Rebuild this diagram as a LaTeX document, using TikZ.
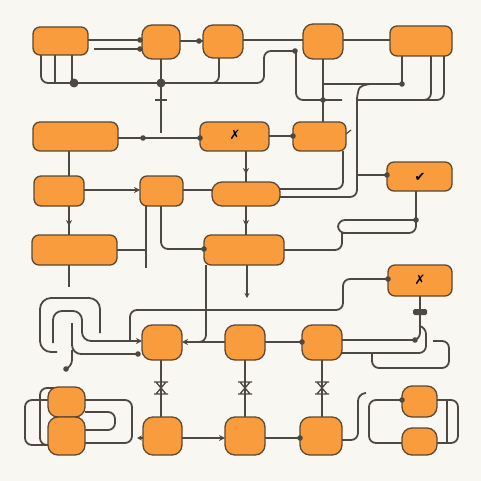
\documentclass[tikz,border=0pt]{standalone}
\usepackage{fontspec}
\newfontfamily\symfont{DejaVu Sans}
\usetikzlibrary{arrows.meta}
\definecolor{bg}{RGB}{249,247,242}
\definecolor{boxfill}{RGB}{248,156,62}
\definecolor{boxedge}{RGB}{92,72,52}
\definecolor{wire}{RGB}{78,72,66}
\begin{document}
\begin{tikzpicture}[x=1pt,y=-1pt,
  box/.style={draw=boxedge, line width=1.3pt, fill=boxfill, rounded corners=7pt, inner sep=0pt, outer sep=0pt},
  sq/.style={box, rounded corners=10pt},
  ln/.style={draw=wire, line width=1.8pt, rounded corners=7pt},
  tip/.style={-{Stealth[length=6pt,width=6pt]}},
  jd/.pic={\fill[wire] (0,0) circle (2.8pt);},
  bigjd/.pic={\fill[wire] (0,0) circle (4.5pt);},
  hg/.pic={\draw[wire,line width=1.3pt] (-7,-6)--(7,-6) (-7,6)--(7,6) (-5,-6)--(5,6) (5,-6)--(-5,6);},
  icon/.style={font=\symfont\fontsize{13}{13}\selectfont, text=black, inner sep=0pt}
]
\fill[bg] (0,0) rectangle (481,481);
\useasboundingbox (0,0) rectangle (481,481);

% ---------- wires (drawn first) ----------
% row 1
\draw[ln] (88,40) -- (142,40);
\coordinate (p1) at (94,49);
\draw[ln] (p1) -- (142,49);
\draw[ln] (41,55) -- (41,83) -- (264,83) -- (264,51) -- (295,51);
\draw[ln] (55,55) -- (55,83);
\draw[ln] (72,55) -- (72,83);
\draw[ln] (219,58) -- (219,83) -- (205,83);
\draw[ln] (161,59) -- (161,133);
\draw[wire,line width=1.4pt] (155,100) -- (167,100);
\draw[ln] (296,51) -- (296,100) -- (342,100);
\draw[ln] (323,59) -- (323,122);
\draw[ln] (323,84) -- (402,84);
\draw[ln] (402,56) -- (402,84);
\draw[ln] (370,84) .. controls (359,86) .. (357,98);
\draw[ln] (357,98) -- (357,197) -- (280,197);
\draw[ln] (357,175) -- (387,175);
\draw[ln] (431,56) -- (431,100) -- (357,100);
\draw[ln] (444,56) -- (444,100) -- (425,100);
\draw[ln] (343,151) -- (343,189) -- (280,189);
\draw[ln] (180,41) -- (203,41);
\draw[ln] (243,40) -- (303,40);
\draw[ln] (343,40) -- (390,40);
% row 2
\draw[ln] (118,138) -- (200,138);
\draw[ln] (269,136) -- (293,136);
\draw[wire,line width=1.2pt] (346,134) -- (351,130);
\draw[ln,tip] (246,151) -- (246,174);
\draw[ln] (246,170) -- (246,182);
\draw[ln] (69,151) -- (69,176);
% row 3
\draw[ln,tip] (84,190) -- (140,190);
\draw[ln] (183,190) -- (212,190);
\draw[ln,tip] (69,206) -- (69,226);
\draw[ln] (69,222) -- (69,235);
\draw[ln,tip] (246,206) -- (246,226);
\draw[ln] (246,222) -- (246,235);
\draw[ln] (146,206) -- (146,268);
\draw[ln] (161,206) -- (161,249) -- (204,249);
% row 4
\draw[ln] (117,250) -- (146,250);
\draw[ln] (69,265) -- (69,287);
\draw[ln,-{Stealth[length=5pt,width=5pt]}] (247,265) -- (247,298);
\draw[ln] (284,250) -- (342,250) -- (342,233);
\draw[ln] (416,191) -- (416,233) -- (342,233);
\draw[ln] (416,220) -- (338,220) -- (338,233) -- (350,233);
\draw[ln] (388,279) -- (343,279) -- (343,310) -- (130,310) -- (130,340);
\draw[ln] (206,265) -- (206,342) -- (190,342);
% row 5 / 6
\draw[ln,{Stealth[length=6pt,width=6pt]}-] (182,342) -- (225,342);
\draw[ln] (265,342) -- (302,342);
\draw[ln] (342,340) -- (420,340) -- (420,296);
\fill[wire, rounded corners=1.5pt] (413,309) rectangle (427,315);
\draw[ln] (342,353) -- (426,353) -- (426,327) -- (420,326);
\draw[ln] (372,353) -- (372,368) -- (449,368) -- (449,341) -- (433,341);
% left serpentine
\draw[ln, rounded corners=11pt] (100,333) -- (100,298) -- (40,298) -- (40,352) -- (57,352);
\draw[ln, rounded corners=9pt, tip] (53,343) -- (53,311) -- (82,311) -- (82,341) -- (142,341);
\draw[ln, rounded corners=9pt] (72,323) -- (72,354) -- (138,354);
\draw[ln] (72,350) -- (72,367) -- (66,369);
% verticals F->G
\draw[ln] (161,360) -- (161,417);
\draw[ln] (245,360) -- (245,417);
\draw[ln] (322,360) -- (322,417);
% row 7
\draw[ln,tip] (182,438) -- (225,438);
\draw[ln] (265,438) -- (300,438);
\draw[ln] (342,440) -- (358,440) -- (358,394) -- (366,393);
\draw[wire,-{Stealth[length=5pt,width=5pt]},line width=1.4pt] (143,438) -- (137,438);
% H loop
\draw[ln] (48,400) -- (25,400) -- (25,445) -- (48,445);
\draw[ln] (54,388) -- (40,388) -- (40,445) -- (48,445);
\draw[ln] (85,400) -- (132,400) -- (132,443) -- (85,443);
\draw[ln] (85,412) -- (115,412) -- (115,430) -- (85,430);
% I loop
\draw[ln] (402,400) -- (369,400) -- (369,443) -- (402,443);
\draw[ln] (437,400) -- (458,400) -- (458,443) -- (437,443);
\draw[ln] (447,400) -- (447,443);

% ---------- nodes ----------
\node[box, minimum width=55pt, minimum height=28pt] (A1) at (60.5,41) {};
\node[sq,  minimum width=38pt, minimum height=34pt] (A2) at (161,42) {};
\node[sq,  minimum width=40pt, minimum height=33pt] (A3) at (223,41.5) {};
\node[sq,  minimum width=40pt, minimum height=35pt] (A4) at (323,41.5) {};
\node[box, minimum width=62pt, minimum height=30pt] (A5) at (421,41) {};
\node[box, minimum width=85pt, minimum height=29pt] (B1) at (75.5,136.5) {};
\node[box, minimum width=69pt, minimum height=29pt] (B2) at (234.5,136.5) {};
\node[box, minimum width=53pt, minimum height=29pt] (B3) at (319.5,136.5) {};
\node[box, minimum width=50pt, minimum height=30pt] (C1) at (59,191) {};
\node[box, minimum width=43pt, minimum height=30pt] (C2) at (161.5,191) {};
\node[box, minimum width=68pt, minimum height=24pt, rounded corners=10pt] (C3) at (246,194) {};
\node[box, minimum width=65pt, minimum height=29pt] (C4) at (419.5,176.5) {};
\node[box, minimum width=85pt, minimum height=30pt] (D1) at (74.5,250) {};
\node[box, minimum width=80pt, minimum height=30pt] (D2) at (244,250) {};
\node[box, minimum width=64pt, minimum height=31pt] (E1) at (420,280.5) {};
\node[sq,  minimum width=40pt, minimum height=35pt] (F1) at (162,342.5) {};
\node[sq,  minimum width=40pt, minimum height=35pt] (F2) at (245,342.5) {};
\node[sq,  minimum width=40pt, minimum height=35pt] (F3) at (322,342.5) {};
\node[sq,  minimum width=39pt, minimum height=38pt] (G1) at (162.5,436) {};
\node[sq,  minimum width=40pt, minimum height=38pt] (G2) at (245,436) {};
\node[sq,  minimum width=42pt, minimum height=38pt] (G3) at (321,436) {};
\node[sq,  minimum width=37pt, minimum height=30pt] (H1) at (66.5,402) {};
\node[sq,  minimum width=37pt, minimum height=38pt] (H2) at (66.5,436) {};
\node[sq,  minimum width=35pt, minimum height=31pt] (I1) at (419.5,401.5) {};
\node[sq,  minimum width=35pt, minimum height=27pt] (I2) at (419.5,441.5) {};

% icons
\node[icon] (ic1) at (235,135) {✗};
\node[icon] (ic2) at (420,177) {✔};
\node[icon] (ic3) at (420,280) {✗};

% junction dots
\pic at (140,40) {jd};
\pic at (140,49) {jd};
\pic at (199,41) {jd};
\pic at (74,83) {bigjd};
\pic at (161,83) {bigjd};
\pic at (295,51) {jd};
\pic at (323,100) {jd};
\pic at (402,84) {jd};
\pic at (143,138) {jd};
\pic at (200,138) {jd};
\pic at (293,136) {jd};
\pic at (387,175) {jd};
\pic at (416,220) {jd};
\pic at (204,249) {jd};
\pic at (388,279) {jd};
\pic at (415,340) {jd};
\pic at (302,342) {jd};
\pic at (300,438) {jd};
\pic at (138,354) {jd};
\pic at (66,369) {jd};
\pic at (402,400) {jd};
\pic at (161,388) {hg};
\pic at (245,388) {hg};
\pic at (322,388) {hg};
\end{tikzpicture}
\end{document}
